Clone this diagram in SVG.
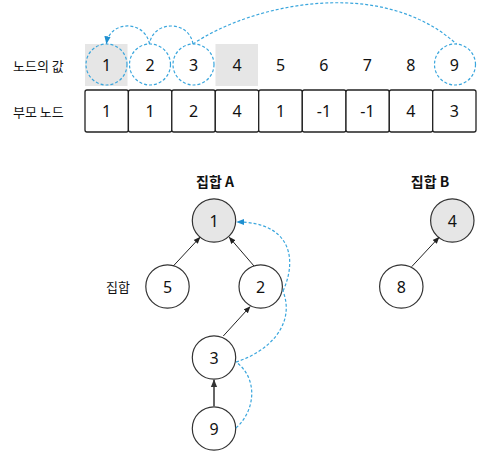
<svg xmlns="http://www.w3.org/2000/svg" width="492" height="456" viewBox="0 0 492 456">
<defs>
<style>
.num{font-family:"Noto Sans","Liberation Sans",sans-serif;font-size:16px;fill:#111;text-anchor:middle;dominant-baseline:central}
.lbl{font-family:"Noto Sans CJK KR","Noto Sans",sans-serif;font-size:13px;fill:#111;dominant-baseline:central}
.ttl{font-family:"Noto Sans CJK KR","Noto Sans",sans-serif;font-size:14px;font-weight:bold;fill:#111;text-anchor:middle;dominant-baseline:central}
.cell{fill:#fff;stroke:#222;stroke-width:1.3}
.gray{fill:#e6e6e6}
.node{fill:#fff;stroke:#333;stroke-width:1.2}
.root{fill:#e6e6e6;stroke:#333;stroke-width:1.2}
.dc{fill:none;stroke:#3aa6dd;stroke-width:1.2;stroke-dasharray:3,2}
.dl{fill:none;stroke:#3aa6dd;stroke-width:1.2;stroke-dasharray:3,2}
.edge{fill:none;stroke:#222;stroke-width:1}
</style>
<marker id="ab" viewBox="0 0 10 10" refX="9" refY="5" markerWidth="7" markerHeight="7" orient="auto" markerUnits="userSpaceOnUse"><path d="M0,1 L10,5 L0,9 z" fill="#222"/></marker>
<marker id="ag" viewBox="0 0 10 10" refX="9" refY="5" markerWidth="8" markerHeight="8" orient="auto" markerUnits="userSpaceOnUse"><path d="M0,1 L10,5 L0,9 z" fill="#333"/></marker>
<marker id="abl" viewBox="0 0 10 10" refX="9" refY="5" markerWidth="8" markerHeight="8" orient="auto" markerUnits="userSpaceOnUse"><path d="M0,1 L10,5 L0,9 z" fill="#1e8fd0"/></marker>
</defs>
<rect width="492" height="456" fill="#fff"/>

<g id="table">
<text class="lbl" x="13" y="65">노드의 값</text>
<text class="lbl" x="13" y="111">부모 노드</text>
<rect class="gray" x="85" y="44" width="42.5" height="42"/>
<rect class="gray" x="215.5" y="44" width="42.5" height="42"/>
<text class="num" x="106.7" y="65">1</text>
<text class="num" x="150.2" y="65">2</text>
<text class="num" x="193.6" y="65">3</text>
<text class="num" x="237" y="65">4</text>
<text class="num" x="280.5" y="65">5</text>
<text class="num" x="323.9" y="65">6</text>
<text class="num" x="367.4" y="65">7</text>
<text class="num" x="410.8" y="65">8</text>
<text class="num" x="454.3" y="65">9</text>
<rect class="cell" x="85" y="90" width="43.4" height="42" rx="2"/>
<rect class="cell" x="128.4" y="90" width="43.4" height="42" rx="2"/>
<rect class="cell" x="171.8" y="90" width="43.5" height="42" rx="2"/>
<rect class="cell" x="215.3" y="90" width="43.4" height="42" rx="2"/>
<rect class="cell" x="258.7" y="90" width="43.6" height="42" rx="2"/>
<rect class="cell" x="302.3" y="90" width="43.7" height="42" rx="2"/>
<rect class="cell" x="346" y="90" width="43.3" height="42" rx="2"/>
<rect class="cell" x="389.3" y="90" width="43.4" height="42" rx="2"/>
<rect class="cell" x="432.7" y="90" width="43.3" height="42" rx="2"/>
<text class="num" x="106.7" y="111">1</text>
<text class="num" x="150.2" y="111">1</text>
<text class="num" x="193.6" y="111">2</text>
<text class="num" x="237" y="111">4</text>
<text class="num" x="280.5" y="111">1</text>
<text class="num" x="323.9" y="111">-1</text>
<text class="num" x="367.4" y="111">-1</text>
<text class="num" x="410.8" y="111">4</text>
<text class="num" x="454.3" y="111">3</text>
<circle class="dc" cx="106.5" cy="64.5" r="20.5"/>
<circle class="dc" cx="150" cy="64.5" r="20.5"/>
<circle class="dc" cx="193.5" cy="64.5" r="20.5"/>
<circle class="dc" cx="455" cy="64.5" r="20.5"/>
</g>

<g id="labels">
<text class="ttl" x="215" y="181">집합 A</text>
<text class="ttl" x="430" y="181">집합 B</text>
<text class="lbl" x="106" y="286">집합</text>
</g>

<g id="node-1"><circle class="root" cx="214" cy="220.5" r="21.7"/><text class="num" x="214" y="220.5">1</text></g>
<g id="node-5"><circle class="node" cx="167.5" cy="286.5" r="21.7"/><text class="num" x="167.5" y="286.5">5</text></g>
<g id="node-2"><circle class="node" cx="260.7" cy="286.5" r="21.7"/><text class="num" x="260.7" y="286.5">2</text></g>
<g id="node-3"><circle class="node" cx="214" cy="357.5" r="21.7"/><text class="num" x="214" y="357.5">3</text></g>
<g id="node-9"><circle class="node" cx="214" cy="428.5" r="21.7"/><text class="num" x="214" y="428.5">9</text></g>
<g id="node-4"><circle class="root" cx="452.3" cy="220.5" r="21.7"/><text class="num" x="452.3" y="220.5">4</text></g>
<g id="node-8"><circle class="node" cx="401.3" cy="286.5" r="21.7"/><text class="num" x="401.3" y="286.5">8</text></g>

<g id="connectors">
<path class="dl" d="M149.5 44 C145 20, 110 20, 106.5 43.5" marker-end="url(#abl)"/>
<path class="dl" d="M193 44 C189 20, 153 20, 149.5 44"/>
<path class="dl" d="M193 44 C250 5, 380 -25, 456.5 44"/>
<line class="edge" x1="173.3" y1="266" x2="200" y2="237.3" marker-end="url(#ab)"/>
<line class="edge" x1="254" y1="266" x2="229.3" y2="237.3" marker-end="url(#ab)"/>
<line class="edge" x1="223.3" y1="336" x2="250" y2="306.7" marker-end="url(#ab)"/>
<line x1="214" y1="407" x2="214" y2="380" stroke="#666" stroke-width="2" marker-end="url(#ag)"/>
<line class="edge" x1="411.7" y1="266.7" x2="439" y2="237.3" marker-end="url(#ab)"/>
<path class="dl" d="M236 428 C256 410, 258 378, 236 362"/>
<path class="dl" d="M236 362 C268 352, 296 325, 283 291"/>
<path class="dl" d="M283 291 C298 258, 290 222, 237 222" marker-end="url(#abl)"/>
</g>
</svg>
